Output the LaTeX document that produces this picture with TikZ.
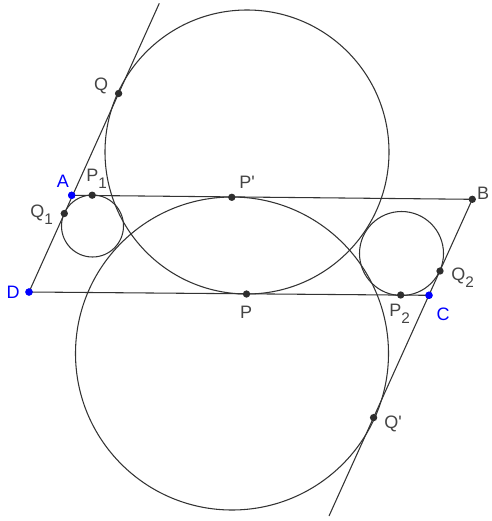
\documentclass[tikz,border=0pt]{standalone}
\usepackage{fontspec}
\setmainfont{Liberation Sans}
\definecolor{ln}{HTML}{333333}
\definecolor{lbl}{HTML}{444444}
\definecolor{bl}{HTML}{0000FF}
\newcommand{\sbs}[1]{\raisebox{-5.5pt}{\fontsize{11.5}{12}\selectfont #1}}
\tikzset{
  pt/.style={circle,fill=ln!90!black,inner sep=0pt,minimum size=5.5pt},
  bpt/.style={circle,fill=bl,inner sep=0pt,minimum size=5.5pt},
  geo/.style={draw=ln,line width=0.8pt},
  lab/.style={text=lbl,font=\fontsize{13.5}{15}\selectfont,inner sep=0pt},
  blab/.style={text=bl,font=\fontsize{13.5}{15}\selectfont,inner sep=0pt}
}
\begin{document}
\begin{tikzpicture}[x=0.75pt,y=-0.75pt]
\useasboundingbox (0,0) rectangle (492,521);
% circles
\draw[geo] (247,152) circle [radius=142];
\draw[geo] (232,353.5) circle [radius=156.5];
\draw[geo] (92.5,226) circle [radius=31];
\draw[geo] (401.5,253.5) circle [radius=42];
% points
\node[bpt] (A) at (71.7,195.3) {};
\node[pt] (B) at (472.3,199.3) {};
\node[bpt] (C) at (429,295.3) {};
\node[bpt] (D) at (29,292) {};
\coordinate (T1) at (159.3,3.3);
\coordinate (T2) at (329,516);
% lines
\draw[geo] (D.center) -- (T1);
\draw[geo] (A.center) -- (B.center);
\draw[geo] (D.center) -- (C.center);
\draw[geo] (B.center) -- (T2);
% tangency points
\node[pt] (Q) at (118.6,93.5) {};
\node[pt] (Qp) at (373.6,417.6) {};
\node[pt] (P) at (246.5,294) {};
\node[pt] (Pp) at (231.8,197.3) {};
\node[pt] (P1) at (92.2,195.2) {};
\node[pt] (Q1) at (64.3,213.5) {};
\node[pt] (P2) at (400.7,295) {};
\node[pt] (Q2) at (440,271) {};
% redraw blue points on top
\node[bpt] at (A) {};
\node[bpt] at (C) {};
\node[bpt] at (D) {};
% labels
\node[lab] (lQ) at (101,86) {Q};
\node[blab] (lA) at (63,181) {A};
\node[lab,anchor=base west] (lP1) at (86,181.5) {P\sbs{1}};
\node[lab,anchor=base west] (lQ1) at (30,217) {Q\sbs{1}};
\node[blab] (lD) at (13,292) {D};
\node[lab] (lPp) at (247,182) {P\textquotesingle};
\node[lab] (lP) at (246,312) {P};
\node[lab] (lB) at (483,193) {B};
\node[lab,anchor=base west] (lQ2) at (451,280) {Q\sbs{2}};
\node[lab,anchor=base west] (lP2) at (389,316) {P\sbs{2}};
\node[blab] (lC) at (443,314) {C};
\node[lab] (lQp) at (393,424) {Q\textquotesingle};
\end{tikzpicture}
\end{document}
